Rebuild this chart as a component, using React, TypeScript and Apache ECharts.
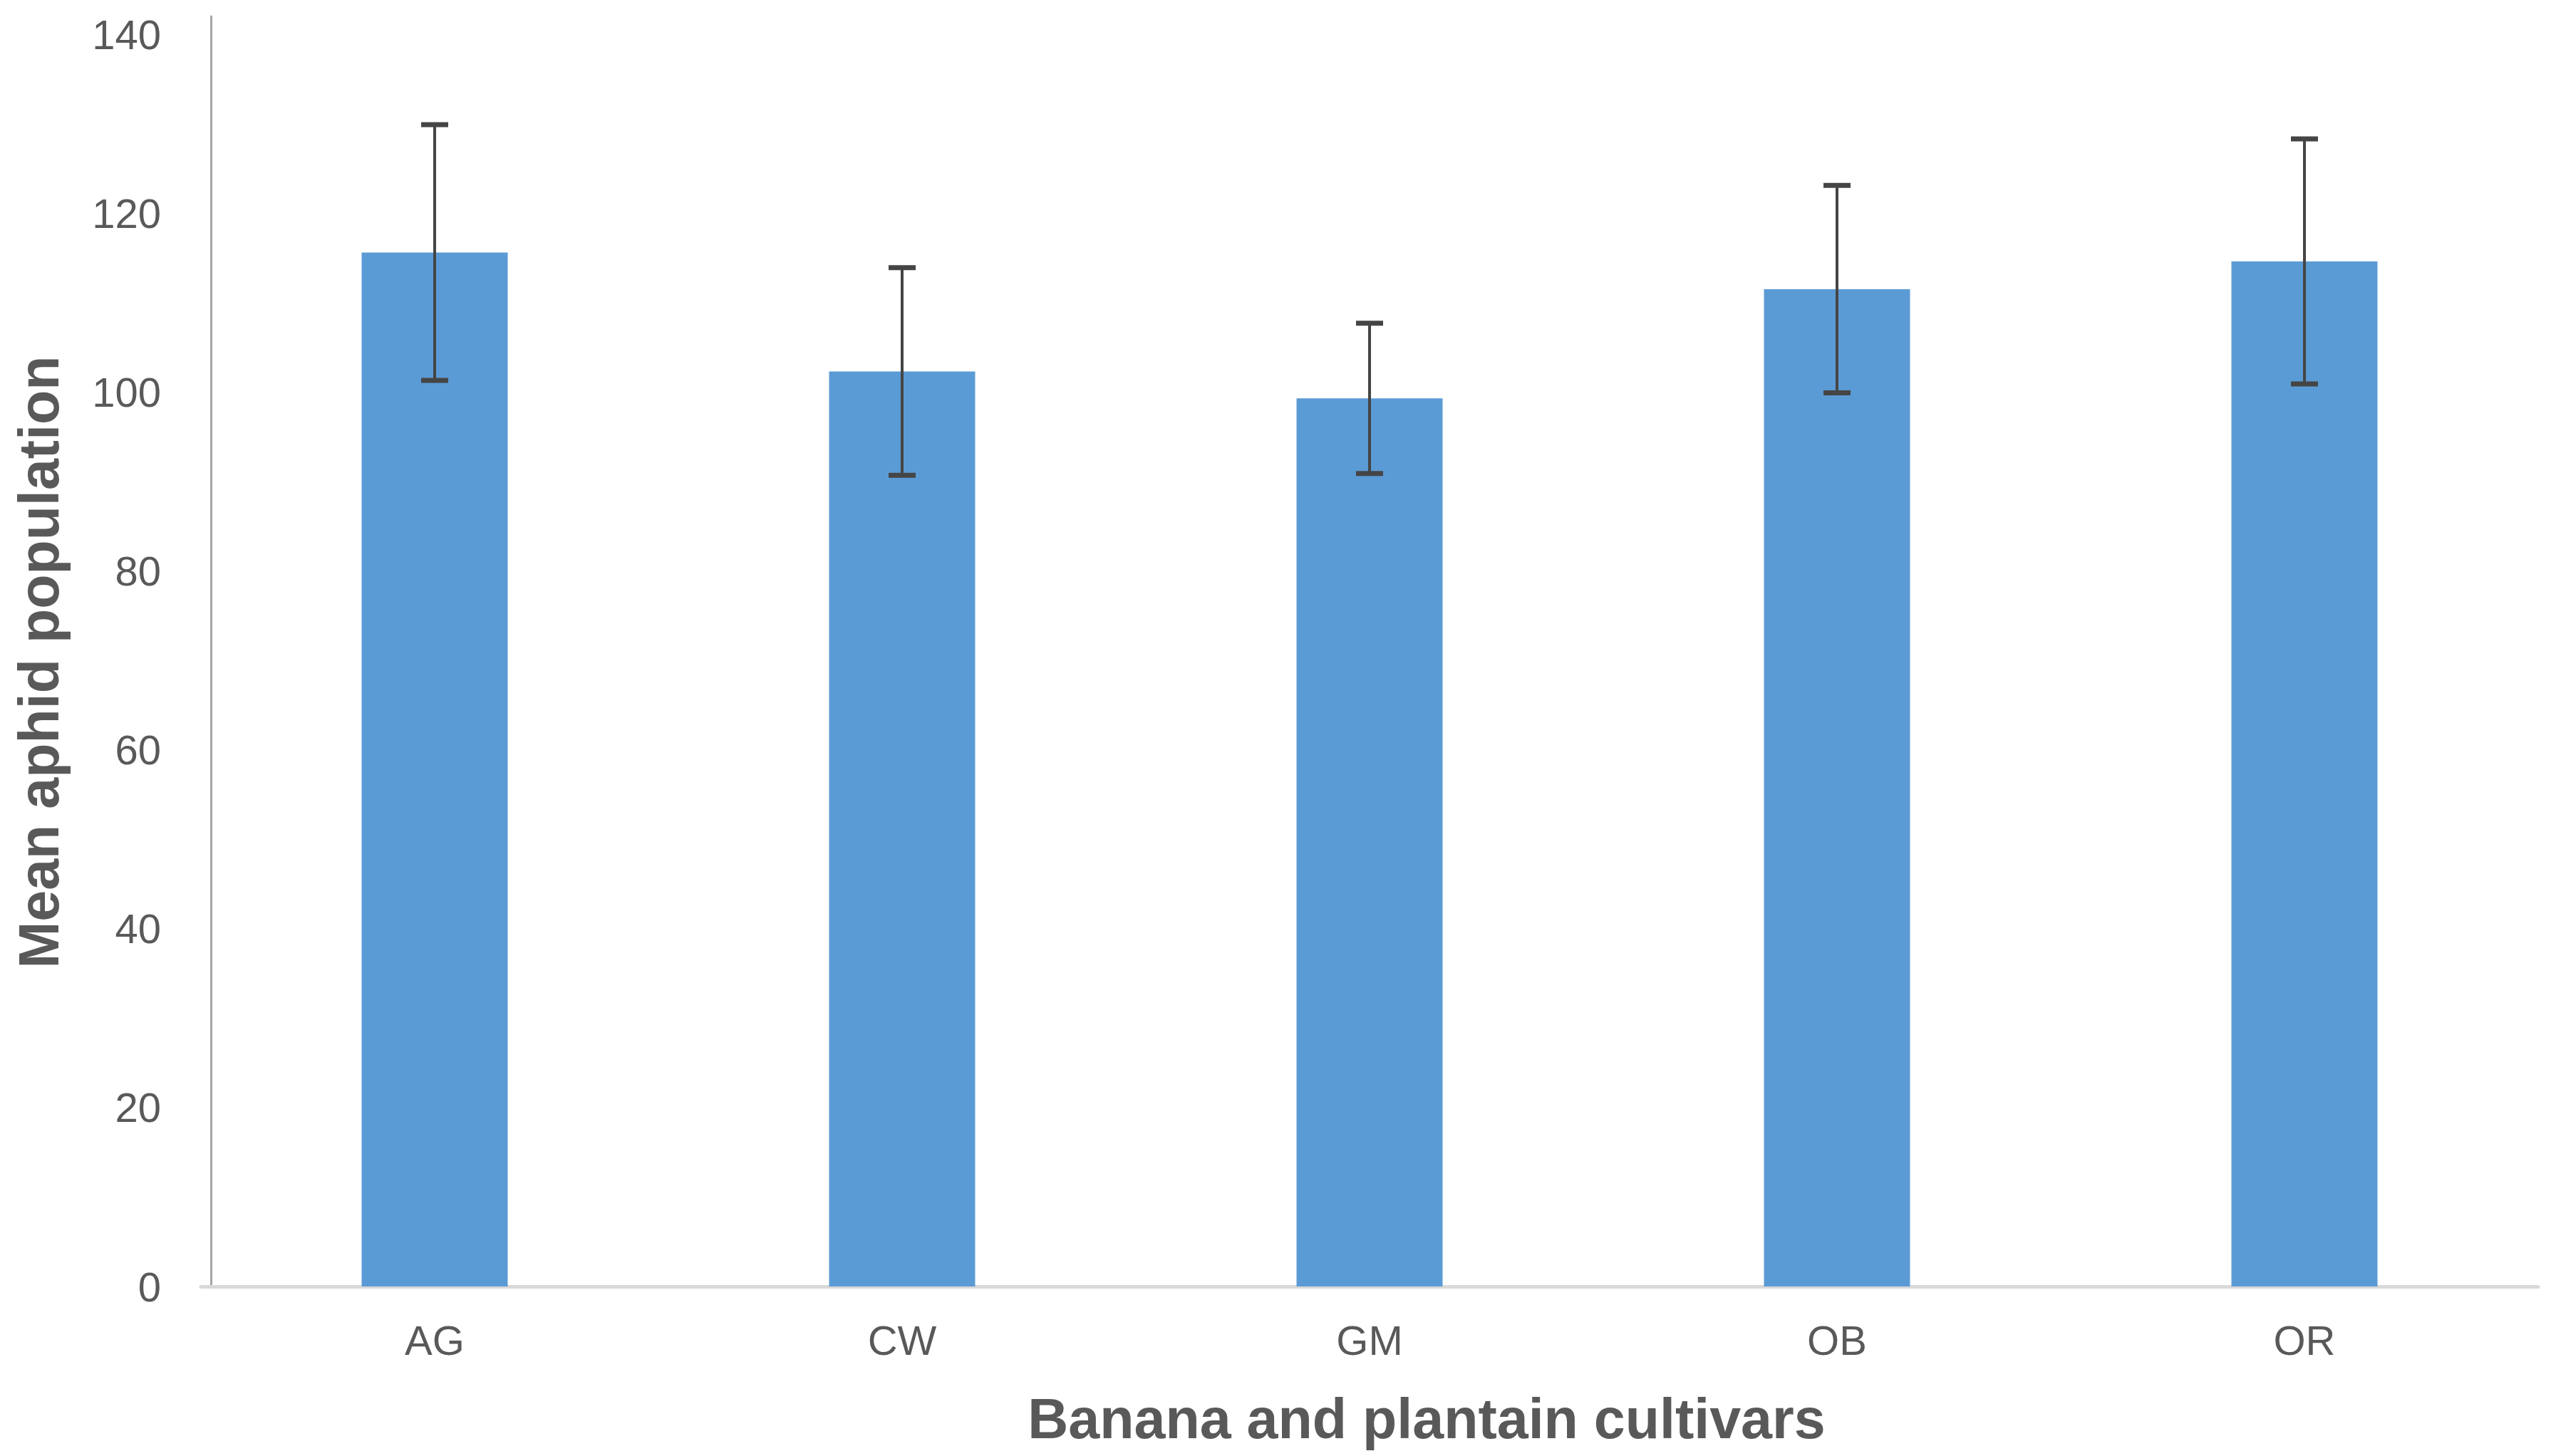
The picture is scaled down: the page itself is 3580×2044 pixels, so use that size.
import { useEffect, useRef } from "react";
import * as echarts from "echarts";

const cultivars = ["AG", "CW", "GM", "OB", "OR"];
const meanAphids = [115.6, 102.3, 99.3, 111.5, 114.6];
const errorSizes = [14.3, 11.6, 8.4, 11.6, 13.7];
const yTicks = [0, 20, 40, 60, 80, 100, 120, 140];

const TEXT = "#595959";
const FONT = "'Liberation Sans', Arial, sans-serif";

export default function App() {
  const ref = useRef<HTMLDivElement>(null);

  useEffect(() => {
    if (!ref.current) return;
    const chart = echarts.init(ref.current, undefined, { renderer: "svg" });

    // [category index, mean - error, mean + error]
    const errorData = cultivars.map((_, i) => [
      i,
      meanAphids[i] - errorSizes[i],
      meanAphids[i] + errorSizes[i],
    ]);

    chart.setOption({
      animation: false,
      backgroundColor: "#ffffff",
      textStyle: { fontFamily: FONT },
      grid: { left: 282, right: 18, top: 23, bottom: 238, outerBoundsMode: "none" },
      xAxis: {
        type: "category",
        data: cultivars,
        name: "Banana and plantain cultivars",
        nameLocation: "middle",
        nameGap: 146,
        nameTextStyle: {
          color: TEXT,
          fontSize: 79,
          fontWeight: "bold",
          fontFamily: FONT,
          padding: [0, 0, 0, 160],
        },
        axisLine: { lineStyle: { color: "#d9d9d9", width: 5 } },
        axisTick: { show: false },
        axisLabel: { color: TEXT, fontSize: 58, margin: 46, fontFamily: FONT },
        splitLine: { show: false },
      },
      yAxis: {
        type: "value",
        min: 0,
        max: 142,
        interval: 20,
        offset: -14,
        name: "Mean aphid population",
        nameLocation: "middle",
        nameGap: 202,
        nameTextStyle: {
          color: TEXT,
          fontSize: 79,
          fontWeight: "bold",
          fontFamily: FONT,
          padding: [0, 30, 0, 0],
        },
        axisLine: { show: true, lineStyle: { color: "#a6a6a6", width: 3 } },
        axisTick: { show: false },
        axisLabel: {
          color: TEXT,
          fontSize: 58,
          margin: 70,
          fontFamily: FONT,
          formatter: (v: number) => (yTicks.includes(v) ? String(v) : ""),
        },
        splitLine: { show: false },
      },
      series: [
        {
          type: "bar",
          data: meanAphids,
          barWidth: 205,
          itemStyle: { color: "#5b9bd5" },
          z: 2,
        },
        {
          type: "custom",
          data: errorData,
          encode: { x: 0, y: [1, 2] },
          z: 3,
          renderItem: (_params: any, api: any) => {
            const idx = api.value(0);
            const lo = api.coord([idx, api.value(1)]);
            const hi = api.coord([idx, api.value(2)]);
            const half = 19;
            const stem = { stroke: "#454545", lineWidth: 4 };
            const cap = { stroke: "#454545", lineWidth: 7 };
            return {
              type: "group",
              children: [
                { type: "line", shape: { x1: hi[0], y1: hi[1], x2: lo[0], y2: lo[1] }, style: stem },
                { type: "line", shape: { x1: hi[0] - half, y1: hi[1], x2: hi[0] + half, y2: hi[1] }, style: cap },
                { type: "line", shape: { x1: lo[0] - half, y1: lo[1], x2: lo[0] + half, y2: lo[1] }, style: cap },
              ],
            };
          },
        },
      ],
    });

    return () => chart.dispose();
  }, []);

  return (
    <div
      ref={ref}
      style={{ position: "fixed", left: 0, top: 0, width: "100vw", height: "100vh" }}
    />
  );
}
